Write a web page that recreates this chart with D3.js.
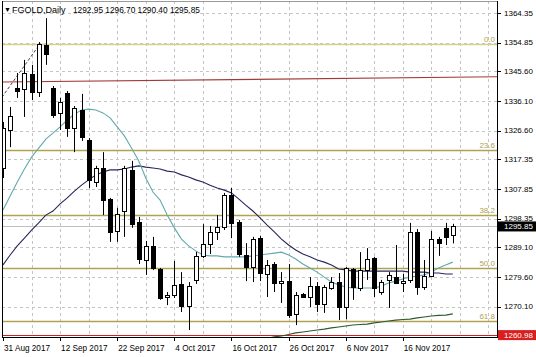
<!DOCTYPE html>
<html>
<head>
<meta charset="utf-8">
<script src="https://cdn.jsdelivr.net/npm/d3@7"></script>
<style>
body { margin: 0; background: #fff; }
svg { display: block; font-family: "Liberation Sans", Arial, sans-serif; }
</style>
</head>
<body>
<svg id="chart" width="536" height="357"></svg>
<script>
// daily bars, 31 Aug 2017 .. 27 Nov 2017
const opens = [1314.6,1326.8,1340.3,1340.0,1344.8,1339.0,1354.1,1340.3,1332.3,1338.7,
  1327.4,1333.2,1323.6,1310.1,1314.6,1304.7,1294.4,1300.8,1314.0,1297.3,
  1285.1,1289.6,1282.2,1273.2,1273.9,1277.4,1270.3,1278.7,1286.4,1290.2,
  1294.1,1295.7,1305.9,1297.3,1286.7,1282.8,1292.1,1280.6,1283.8,1277.7,
  1278.3,1267.8,1274.2,1273.2,1276.7,1271.0,1276.1,1278.0,1270.0,1282.2,
  1276.1,1281.9,1285.7,1274.8,1278.7,1279.6,1277.7,1278.7,1294.1,1276.4,
  1279.9,1291.8,1295.4,1292.95];
const highs = [1329.4,1334.2,1345.1,1349.3,1347.7,1355.0,1362.7,1340.9,1337.1,1339.3,
  1334.5,1338.4,1324.2,1315.3,1319.7,1305.0,1301.8,1315.3,1316.9,1298.9,
  1291.2,1292.5,1282.5,1274.8,1284.8,1281.2,1278.0,1287.7,1296.6,1296.0,
  1299.5,1306.6,1308.2,1297.9,1290.5,1292.5,1292.8,1285.1,1284.4,1281.2,
  1283.8,1274.8,1274.5,1279.6,1278.0,1277.1,1279.6,1280.9,1282.8,1282.5,
  1287.6,1288.9,1286.1,1278.7,1281.2,1289.9,1280.6,1297.0,1295.0,1285.1,
  1294.4,1292.5,1297.0,1296.70];
const lows = [1311.4,1321.3,1337.1,1331.0,1336.4,1337.4,1347.7,1330.7,1326.8,1324.6,
  1319.7,1323.3,1308.2,1308.5,1299.5,1290.9,1290.9,1292.5,1295.4,1283.8,
  1280.3,1281.9,1272.3,1270.6,1272.9,1268.4,1262.6,1277.4,1285.7,1287.0,
  1291.5,1294.7,1292.1,1286.1,1278.3,1278.0,1278.3,1273.2,1274.8,1271.3,
  1266.5,1264.2,1272.9,1270.0,1268.4,1268.1,1275.5,1265.8,1266.1,1272.3,
  1275.1,1278.7,1273.2,1273.9,1269.7,1277.4,1274.8,1277.7,1273.9,1275.5,
  1279.6,1286.4,1289.9,1290.40];
const closes = [1327.4,1331.3,1339.3,1345.1,1339.0,1354.4,1351.2,1331.6,1335.8,1327.4,
  1333.9,1324.6,1310.8,1314.6,1304.3,1294.1,1299.9,1314.6,1296.6,1285.4,
  1289.6,1282.5,1272.9,1273.9,1277.1,1270.3,1276.7,1286.4,1290.2,1294.1,
  1295.7,1305.9,1296.9,1287.0,1282.8,1291.8,1280.9,1283.5,1277.7,1278.3,
  1267.4,1273.9,1273.2,1276.7,1271.0,1276.4,1278.0,1270.0,1282.5,1276.4,
  1281.9,1285.4,1276.1,1278.0,1280.3,1277.7,1278.3,1294.1,1276.4,1279.9,
  1291.8,1290.5,1292.5,1295.85];

// moving averages
const maFast = [1301.1,1305.6,1310.1,1314.3,1318.1,1321.0,1323.9,1325.8,1327.8,1330.0,
  1331.9,1333.2,1333.5,1333.2,1332.3,1330.7,1327.8,1324.9,1321.0,1316.9,
  1311.4,1306.9,1304.3,1299.5,1295.4,1291.8,1289.6,1288.0,1286.7,1286.4,
  1286.4,1286.1,1286.1,1286.1,1286.1,1286.4,1286.7,1287.0,1287.3,1287.6,
  1286.7,1285.4,1283.8,1282.5,1281.2,1279.6,1278.0,1277.1,1276.4,1276.1,
  1276.1,1276.1,1276.1,1276.7,1277.7,1278.3,1279.0,1279.6,1279.9,1280.3,
  1281.2,1282.5,1283.5,1284.4];
const maSlow = [1283.5,1286.7,1289.6,1292.1,1294.7,1297.0,1299.5,1300.8,1303.1,1305.0,
  1307.2,1309.1,1310.8,1312.4,1313.3,1314.0,1314.0,1314.3,1314.9,1315.3,
  1314.9,1314.6,1314.3,1313.6,1313.3,1312.4,1311.7,1310.8,1310.1,1309.1,
  1308.2,1307.5,1306.6,1304.7,1302.7,1300.8,1298.6,1296.3,1294.1,1291.8,
  1289.9,1288.3,1287.0,1286.1,1285.1,1284.4,1283.5,1282.2,1281.9,1281.5,
  1281.5,1281.5,1281.5,1281.5,1281.5,1281.5,1281.5,1281.2,1281.2,1281.2,
  1280.9,1280.9,1280.6,1280.6];
const maLong = [null,null,null,null,null,null,null,null,null,null,
  null,null,null,null,null,null,null,null,null,null,
  null,null,null,null,null,null,null,null,null,null,
  null,null,null,null,null,null,null,1260.0,1260.4,1260.7,
  1261.2,1261.7,1262.0,1262.3,1262.6,1262.9,1263.3,1263.6,1263.9,1264.2,
  1264.4,1264.5,1264.9,1265.2,1265.5,1265.8,1266.0,1266.1,1266.5,1266.8,
  1267.1,1267.3,1267.4,1267.8];
const maTop = [{bar: -0.2, price: 1342.2}, {bar: 69.3, price: 1343.9}];

const priceTicks = [1364.35, 1354.85, 1345.60, 1336.10, 1326.60, 1317.35, 1307.85, 1298.35, 1289.10, 1279.60, 1270.10];
const dateLabels = ["31 Aug 2017", "12 Sep 2017", "22 Sep 2017", "4 Oct 2017", "16 Oct 2017", "26 Oct 2017", "6 Nov 2017", "16 Nov 2017"];
const dateBars = [0, 8, 16, 24, 32, 40, 48, 56];

const fibLabels = ["0.0", "23.6", "38.2", "50.0", "61.8"];
const fibRatios = [0, 0.236, 0.382, 0.5, 0.618];
const fibHigh = {bar: 5.2, price: 1354.5};
const fibLow = {bar: -39.6, price: 1210.6};

const levelPrice = 1260.98;
const lastPrice = 1295.85;
const symbol = "FGOLD,Daily";
const lastBarText = "1292.95 1296.70 1290.40 1295.85";

const bars = opens.map((o, i) => ({i: i, o: o, h: highs[i], l: lows[i], c: closes[i]}));

const svg = d3.select("#chart");
const pLeft = 2, pRight = 497, pTop = 1, pBottom = 337;
const x = d3.scaleLinear().domain([0, 63]).range([3, 452.8]);
const y = d3.scaleLinear().domain([levelPrice, 1364.35]).range([335.1, 13]);
const px = v => Math.round(v) + 0.5;

svg.append("defs").append("clipPath").attr("id", "plot")
  .append("rect").attr("x", pLeft).attr("y", pTop).attr("width", pRight - pLeft).attr("height", pBottom - pTop);

// dashed grid
const grid = svg.append("g").attr("stroke", "#c4c4c4").attr("stroke-dasharray", "3,3");
grid.selectAll("line.h").data(priceTicks).join("line").attr("class", "h")
  .attr("x1", pLeft).attr("x2", pRight)
  .attr("y1", d => px(y(d))).attr("y2", d => px(y(d)));
grid.selectAll("line.v").data(d3.range(4, 70, 4)).join("line").attr("class", "v")
  .attr("x1", d => px(x(d))).attr("x2", d => px(x(d)))
  .attr("y1", pTop).attr("y2", pBottom);

const plot = svg.append("g").attr("clip-path", "url(#plot)");

// fibonacci levels
const fibPrice = r => fibHigh.price - r * (fibHigh.price - fibLow.price);
plot.selectAll("line.fib").data(fibRatios).join("line").attr("class", "fib")
  .attr("x1", pLeft).attr("x2", pRight)
  .attr("y1", d => px(y(fibPrice(d)))).attr("y2", d => px(y(fibPrice(d))))
  .attr("stroke", d => d === 0 ? "#d8cf8c" : "#b0a250")
  .attr("stroke-width", 1.3);
plot.append("line")
  .attr("x1", x(fibLow.bar)).attr("y1", y(fibLow.price))
  .attr("x2", x(fibHigh.bar)).attr("y2", y(fibHigh.price))
  .attr("stroke", "#444").attr("stroke-dasharray", "3,2");
svg.append("g").selectAll("text").data(fibRatios).join("text")
  .attr("x", 495).attr("y", d => y(fibPrice(d)) - 2)
  .attr("text-anchor", "end").attr("font-size", 8).attr("fill", "#b0a250")
  .text((d, i) => fibLabels[i]);

// horizontal levels
plot.append("line").attr("x1", pLeft).attr("x2", pRight)
  .attr("y1", px(y(lastPrice))).attr("y2", px(y(lastPrice)))
  .attr("stroke", "#c0c0c0");
plot.append("line").attr("x1", pLeft).attr("x2", pRight)
  .attr("y1", px(y(levelPrice))).attr("y2", px(y(levelPrice)))
  .attr("stroke", "#cc2222").attr("stroke-width", 1.2);
plot.append("line")
  .attr("x1", x(maTop[0].bar)).attr("y1", y(maTop[0].price))
  .attr("x2", x(maTop[1].bar)).attr("y2", y(maTop[1].price))
  .attr("stroke", "#a33a3a").attr("stroke-width", 1.2);

// moving averages
const maLine = d3.line().defined(d => d != null).x((d, i) => x(i)).y(d => y(d));
plot.append("path").attr("d", maLine(maLong)).attr("fill", "none").attr("stroke", "#2f5a2a").attr("stroke-width", 1.1);
plot.append("path").attr("d", maLine(maSlow)).attr("fill", "none").attr("stroke", "#26265e").attr("stroke-width", 1.1);
plot.append("path").attr("d", maLine(maFast)).attr("fill", "none").attr("stroke", "#62a9ad").attr("stroke-width", 1.1);

// candles
const candle = plot.selectAll("g.bar").data(bars).join("g").attr("class", "bar");
candle.append("line")
  .attr("x1", d => px(x(d.i))).attr("x2", d => px(x(d.i)))
  .attr("y1", d => y(d.h)).attr("y2", d => y(d.l))
  .attr("stroke", "#000");
candle.append("rect")
  .attr("x", d => Math.round(x(d.i)) - 1.5).attr("width", 4)
  .attr("y", d => Math.round(y(Math.max(d.o, d.c))) + 0.5)
  .attr("height", d => Math.max(1, Math.round(Math.abs(y(d.o) - y(d.c)))))
  .attr("fill", d => d.c >= d.o ? "#fff" : "#000")
  .attr("stroke", "#000");

// frame
svg.append("line").attr("x1", pLeft).attr("x2", pRight).attr("y1", pTop + 0.5).attr("y2", pTop + 0.5).attr("stroke", "#999");
svg.append("line").attr("x1", pLeft + 0.5).attr("x2", pLeft + 0.5).attr("y1", pTop).attr("y2", pBottom).attr("stroke", "#000");
svg.append("line").attr("x1", pRight + 0.5).attr("x2", pRight + 0.5).attr("y1", pTop).attr("y2", pBottom + 1).attr("stroke", "#000");
svg.append("line").attr("x1", pLeft).attr("x2", pRight + 1).attr("y1", pBottom + 0.5).attr("y2", pBottom + 0.5).attr("stroke", "#000");

// price axis
const yAxis = svg.append("g");
yAxis.selectAll("line").data(priceTicks).join("line")
  .attr("x1", pRight + 1).attr("x2", pRight + 4)
  .attr("y1", d => px(y(d))).attr("y2", d => px(y(d)))
  .attr("stroke", "#000");
yAxis.selectAll("text").data(priceTicks).join("text")
  .attr("x", 504).attr("y", d => y(d)).attr("dy", "0.35em")
  .attr("font-size", 8).attr("fill", "#000")
  .text(d => d.toFixed(2));

// price boxes
const boxes = [{p: lastPrice, fill: "#000"}, {p: levelPrice, fill: "#d81e1e"}];
const box = svg.selectAll("g.box").data(boxes).join("g").attr("class", "box");
box.append("rect").attr("x", pRight + 1).attr("width", 38)
  .attr("y", d => y(d.p) - 5).attr("height", 10).attr("fill", d => d.fill);
box.append("text").attr("x", 504).attr("y", d => y(d.p)).attr("dy", "0.35em")
  .attr("font-size", 8).attr("fill", "#fff").text(d => d.p.toFixed(2));

// time axis
const xAxis = svg.append("g");
xAxis.selectAll("line").data(dateBars).join("line")
  .attr("x1", d => px(x(d))).attr("x2", d => px(x(d)))
  .attr("y1", pBottom).attr("y2", pBottom + 4)
  .attr("stroke", "#000");
xAxis.selectAll("text").data(dateBars).join("text")
  .attr("x", d => x(d) + 1).attr("y", 351)
  .attr("font-size", 8.2).attr("fill", "#000")
  .text((d, i) => dateLabels[i]);

// title
svg.append("text").attr("x", 4).attr("y", 12).attr("font-size", 7).text("▼");
svg.append("text").attr("x", 12).attr("y", 13).attr("font-size", 9).text(symbol);
svg.append("text").attr("x", 73).attr("y", 13).attr("font-size", 8.3).text(lastBarText);
</script>
</body>
</html>
